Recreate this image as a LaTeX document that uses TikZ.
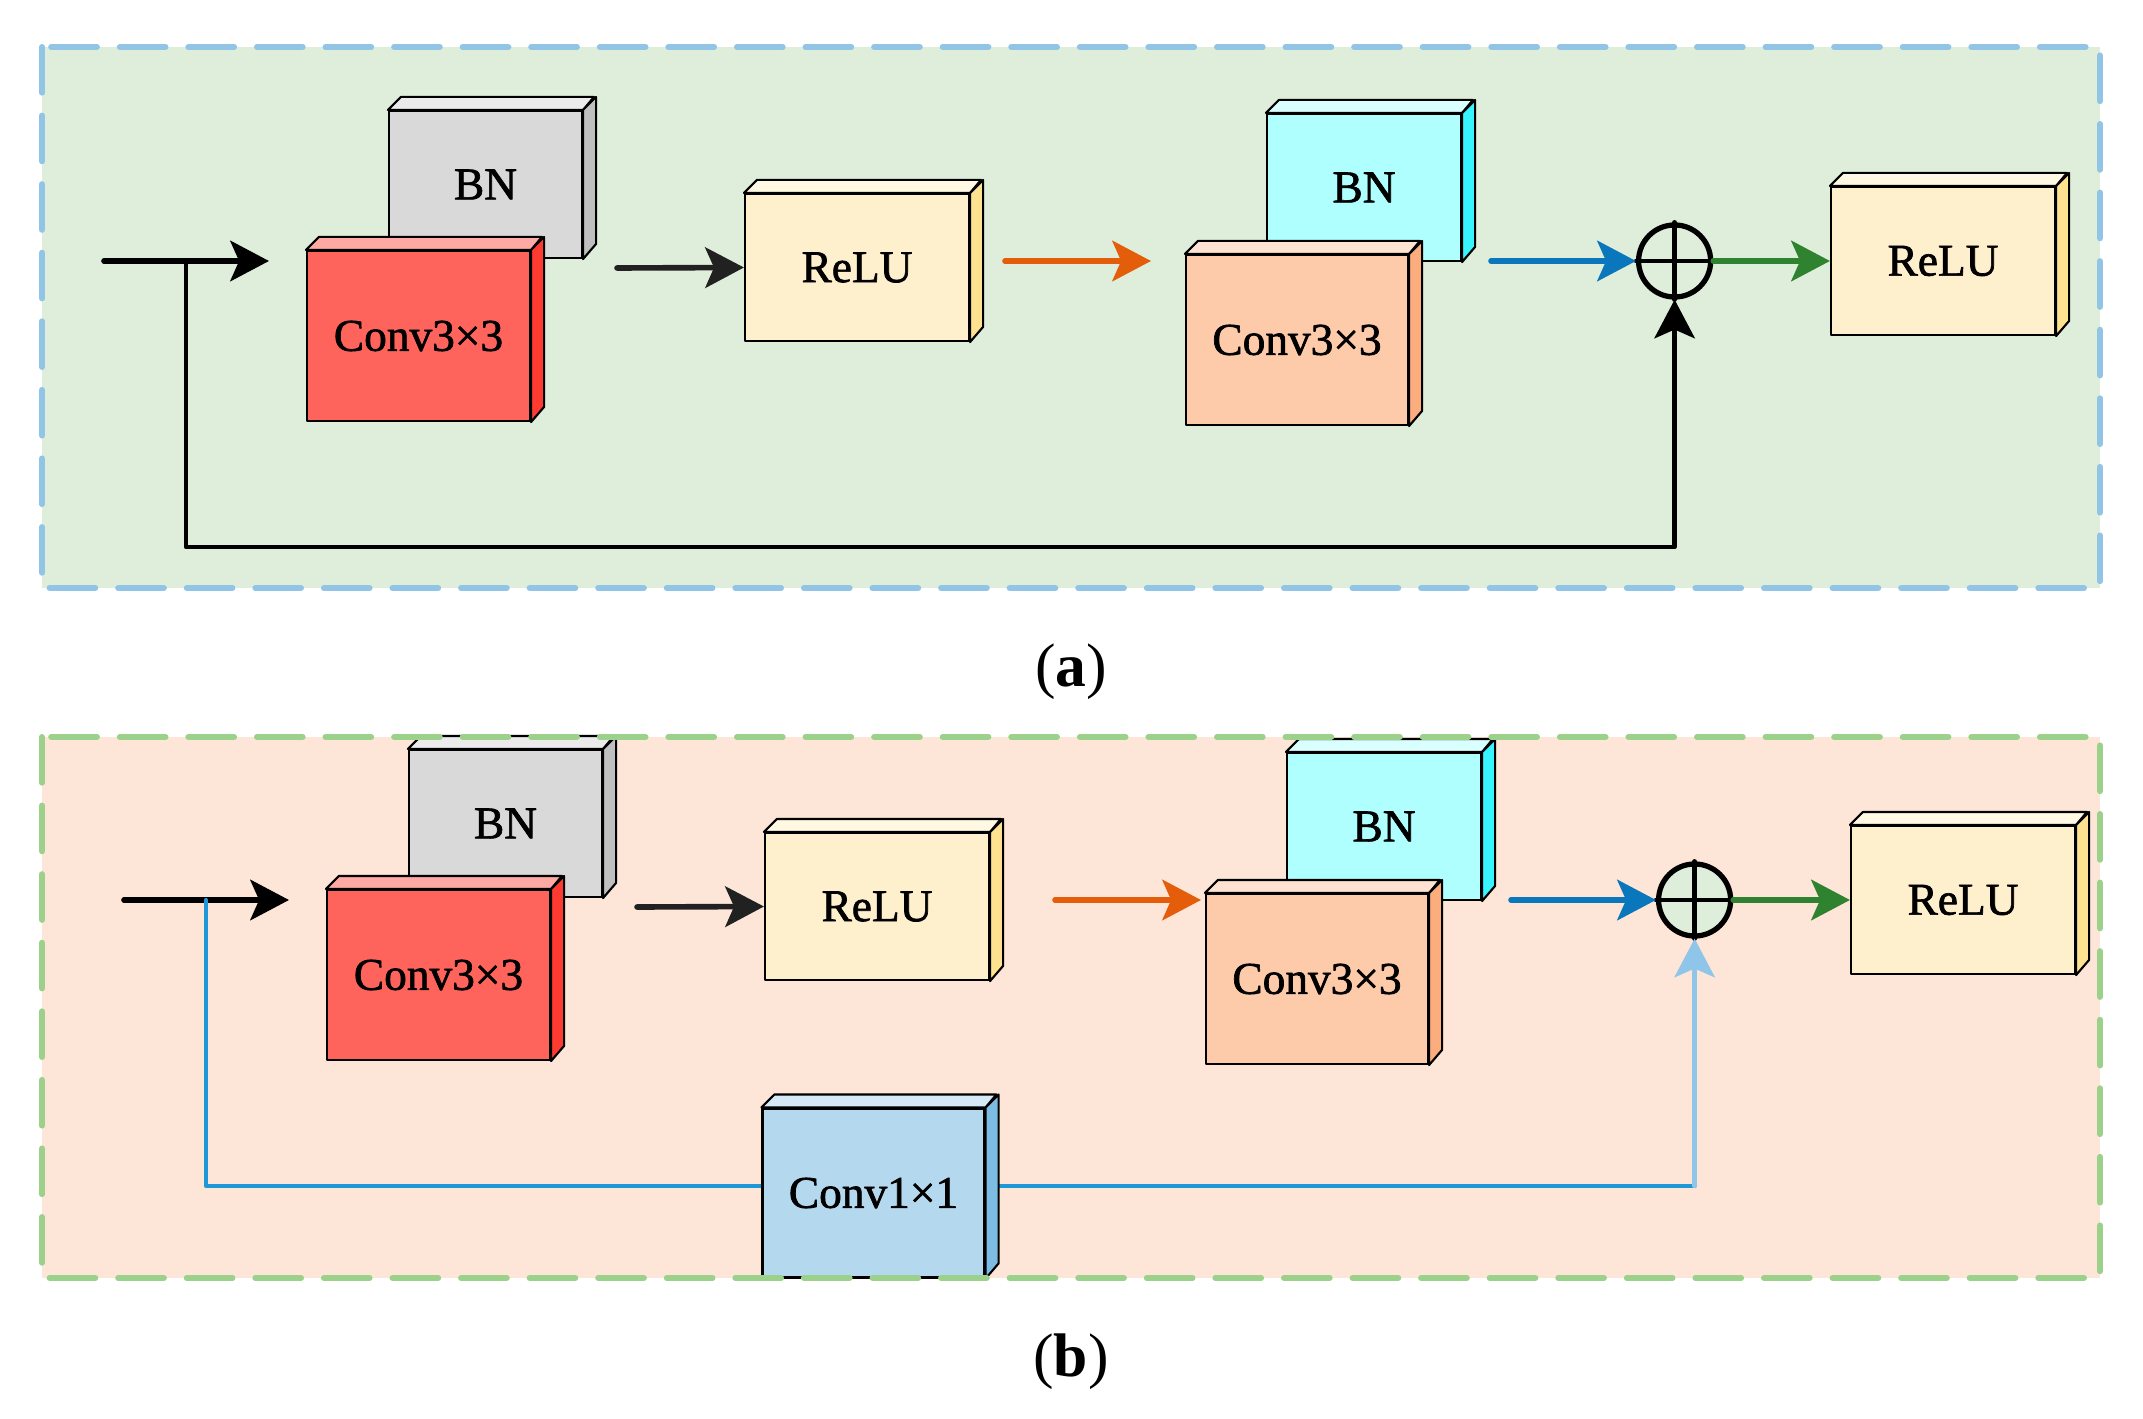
\documentclass[tikz,border=0pt]{standalone}
\usepackage{fontspec}
\setmainfont{Liberation Serif}
\newfontfamily\cubefont{Liberation Serif}[FakeBold=1.5]
\usetikzlibrary{arrows.meta}

\definecolor{greyfront}{HTML}{D9D9D9}
\definecolor{greytop}{HTML}{EBEBEB}
\definecolor{greyside}{HTML}{BFBFBF}
\definecolor{redfront}{HTML}{FF645C}
\definecolor{redtop}{HTML}{FFA9A5}
\definecolor{redside}{HTML}{FF3A31}
\definecolor{yelfront}{HTML}{FFF0CD}
\definecolor{yeltop}{HTML}{FFF8E2}
\definecolor{yelside}{HTML}{FFE290}
\definecolor{aquafront}{HTML}{B0FFFF}
\definecolor{aquatop}{HTML}{D9FFFF}
\definecolor{aquaside}{HTML}{38F4FF}
\definecolor{peachfront}{HTML}{FDCBAA}
\definecolor{peachtop}{HTML}{FEE3D2}
\definecolor{peachside}{HTML}{FCAD7E}
\definecolor{skyfront}{HTML}{B4D8EE}
\definecolor{skytop}{HTML}{D5E9F6}
\definecolor{skyside}{HTML}{7DBCE3}
\definecolor{bga}{HTML}{DEEEDA}
\definecolor{bgb}{HTML}{FDE6D7}
\definecolor{framea}{HTML}{92C4E6}
\definecolor{frameb}{HTML}{9CD18B}
\definecolor{orangeflow}{HTML}{E35D0A}
\definecolor{blueflow}{HTML}{0A76BB}
\definecolor{greenflow}{HTML}{2F8230}
\definecolor{skipblue}{HTML}{1E98D7}
\definecolor{skiplight}{HTML}{8EC5E8}

\tikzset{
  cubefront/.style={draw, line width=0.6pt, inner sep=0pt, font=\cubefont\fontsize{12.9pt}{15pt}\selectfont},
  cubeedge/.style={draw, line width=0.6pt},
  flow/.style={->, line width=1.6pt},
  sum/.style={circle, draw, line width=1.5pt, fill=bga, minimum size=0.72cm, inner sep=0pt},
  frame/.style={line width=1.7pt, dash pattern=on 13pt off 6.5pt},
  caption/.style={font=\fontsize{17.5pt}{20pt}\selectfont}
}

% name, x, y, width, height (px), colour, text
\newcommand{\blockcube}[7]{%
  \node[cubefront, fill=#6front, minimum width=#4*0.01cm, minimum height=#5*0.01cm] (#1) at (#2,#3) {#7};
  \draw[cubeedge, fill=#6top] (#1.north west) -- ++(13,-13) -- ++(#4,0) -- (#1.north east) -- cycle;
  \draw[cubeedge, fill=#6side] (#1.north east) -- ++(13,-13) -- ++(0,#5) -- (#1.south east) -- cycle;
}

\begin{document}
\begin{tikzpicture}[line cap=round,line join=round,>={Stealth[length=11pt,width=11.5pt,inset=2.5pt]},x=0.01cm,y=-0.01cm]
\useasboundingbox (0,0) rectangle (2143,1419);
\fill[bga] (42,47) rectangle (2100,588);
\fill[bgb] (42,737) rectangle (2100,1278);

\foreach \p/\dx/\dy/\oo in {a/0/0/0, b/20/639/30}{
\begin{scope}[shift={(\dx,\dy)}]
\coordinate (in\p) at (104,261);
\coordinate (tip\p) at (269,261);
\draw[flow] (in\p) -- (tip\p);
\blockcube{bn\p}{485.5}{184.5}{193}{147}{grey}{BN}
\blockcube{conv\p}{418.5}{336}{223}{170}{red}{Conv3×3}
\coordinate (mid\p) at (617,268);
\blockcube{relu\p}{857}{267.5}{224}{147}{yel}{ReLU}
\draw[flow, black!87] (mid\p) -- (relu\p.west);
\coordinate (or\p) at (1005+\oo,261);
\coordinate (ot\p) at (1151+\oo,261);
\draw[flow, orangeflow] (or\p) -- (ot\p);
\blockcube{bnn\p}{1364}{187.5}{194}{147}{aqua}{BN}
\blockcube{convv\p}{1297}{340}{222}{170}{peach}{Conv3×3}
\coordinate (bl\p) at (1491,261);
\node[sum] (sum\p) at (1674.6,261) {};
\draw[line width=1.3pt] (sum\p.north) -- (sum\p.south) (sum\p.west) -- (sum\p.east);
\draw[flow, blueflow] (bl\p) -- (sum\p.west);
\blockcube{out\p}{1943}{261}{224}{148}{yel}{ReLU}
\draw[flow, greenflow] (sum\p.east) -- (out\p.west);
\end{scope}
}

% shortcut (a)
\coordinate (bra) at (186,261);
\coordinate (ka) at (1674.6,547);
\draw[->, line width=1.25pt] (bra) |- (ka) -- (suma.south);

% shortcut (b)
\coordinate (brb) at (206,900);
\coordinate (kb) at (206,1186);
\coordinate (kc) at (1694.6,1186);
\draw[line width=1.25pt, skipblue] (brb) -- (kb) -- (kc);
\draw[->, line width=1.25pt, skiplight] (kc) -- (sumb.south);
\blockcube{proj}{873.5}{1193}{222}{169}{sky}{Conv1×1}

\draw[frame, framea] (42,47) rectangle (2100,588);
\draw[frame, frameb] (42,737) rectangle (2100,1278);

\node[caption] (capa) at (1071,672) {(\textbf{a})};
\node[caption] (capb) at (1071,1362) {(\textbf{b})};
\end{tikzpicture}
\end{document}
